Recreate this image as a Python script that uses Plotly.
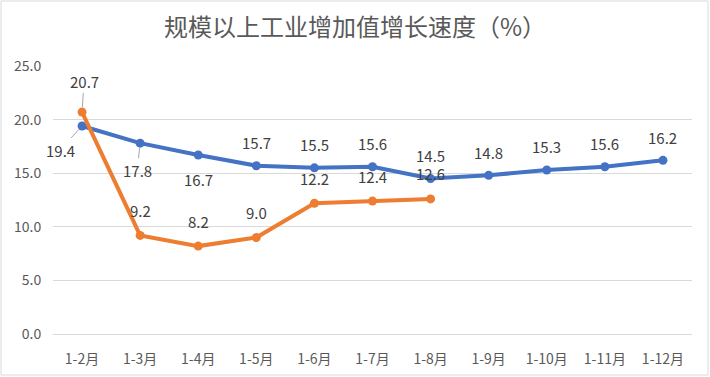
import plotly.graph_objects as go

categories = ["1-2月", "1-3月", "1-4月", "1-5月", "1-6月", "1-7月", "1-8月", "1-9月", "1-10月", "1-11月", "1-12月"]
blue_values = [19.4, 17.8, 16.7, 15.7, 15.5, 15.6, 14.5, 14.8, 15.3, 15.6, 16.2]
orange_values = [20.7, 9.2, 8.2, 9.0, 12.2, 12.4, 12.6]
y_ticks = [0, 5, 10, 15, 20, 25]

BLUE = "#4472C4"
ORANGE = "#ED7D31"
FONT = "Noto Sans CJK SC, Microsoft YaHei, sans-serif"

fig = go.Figure()
fig.add_trace(go.Scatter(x=categories, y=blue_values, mode="lines+markers",
                         line=dict(color=BLUE, width=4), marker=dict(size=9, color=BLUE),
                         hoverinfo="x+y", showlegend=False))
fig.add_trace(go.Scatter(x=categories[:len(orange_values)], y=orange_values, mode="lines+markers",
                         line=dict(color=ORANGE, width=4), marker=dict(size=9, color=ORANGE),
                         hoverinfo="x+y", showlegend=False))

# label offsets (pixels) and whether a leader line is shown
blue_offsets = [(-22, 24, True), (-3, 27, True), (0, 25, False)] + [(0, -23, False)] * 8
orange_offsets = [(2, -31, True)] + [(0, -25, False)] * 6

annotations = []
for series, offs in ((blue_values, blue_offsets), (orange_values, orange_offsets)):
    for i, v in enumerate(series):
        ax, ay, leader = offs[i]
        annotations.append(dict(
            x=categories[i], y=v, xref="x", yref="y", text=f"{v:.1f}",
            showarrow=True, ax=ax, ay=ay, arrowhead=0, arrowwidth=1,
            arrowcolor="#A6A6A6" if leader else "rgba(0,0,0,0)",
            standoff=5, startstandoff=0,
            font=dict(size=15, color="#404040", family=FONT)))

fig.update_layout(
    width=710, height=377,
    margin=dict(l=53, r=18, t=66, b=43),
    paper_bgcolor="white", plot_bgcolor="white",
    title=dict(text="规模以上工业增加值增长速度（%）", x=0.5, xanchor="center",
               y=1 - 28 / 377, yanchor="middle",
               font=dict(size=24, color="#595959", family=FONT)),
    xaxis=dict(range=[-0.5, 10.5], showgrid=False, showline=False, zeroline=False,
               automargin=False,
               tickfont=dict(size=14, color="#595959", family=FONT),
               ticks="outside", ticklen=12, tickcolor="rgba(0,0,0,0)"),
    yaxis=dict(range=[0, 25], tickvals=y_ticks, ticktext=[f"{t:.1f}" for t in y_ticks],
               automargin=False,
               showgrid=True, gridcolor="#D9D9D9", gridwidth=1, zeroline=True,
               zerolinecolor="#D9D9D9", zerolinewidth=1, showline=False,
               tickfont=dict(size=14, color="#595959", family=FONT),
               ticks="outside", ticklen=8, tickcolor="rgba(0,0,0,0)"),
    annotations=annotations,
    shapes=[dict(type="rect", xref="paper", yref="paper",
                 x0=(1 - 53) / 639, x1=(708 - 53) / 639,
                 y0=(334 - 375) / 268, y1=(334 - 1) / 268,
                 line=dict(color="#D9D9D9", width=1), fillcolor="rgba(0,0,0,0)", layer="below")],
)

fig.write_html("out.html", config={"displayModeBar": False},
               post_script="document.body.style.margin='0';document.body.style.overflow='hidden';")
